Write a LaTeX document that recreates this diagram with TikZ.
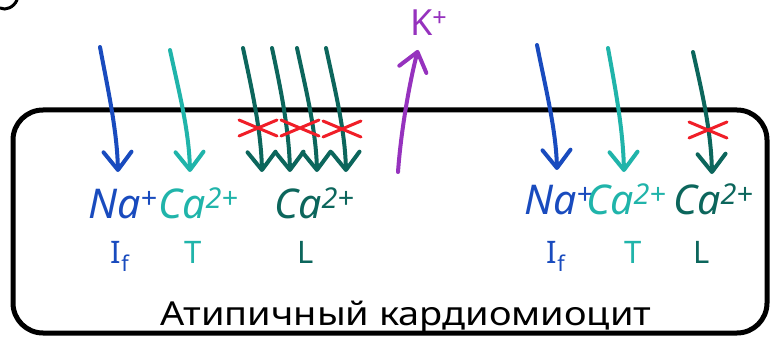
\documentclass[tikz,border=0pt]{standalone}
\usepackage{fontspec}
\setmainfont{Noto Sans}
\usetikzlibrary{arrows.meta}
\definecolor{ionblue}{RGB}{25,75,190}
\definecolor{ionteal}{RGB}{32,180,170}
\definecolor{iondark}{RGB}{12,102,92}
\definecolor{ionpurple}{RGB}{150,50,190}
\definecolor{xred}{RGB}{240,30,40}
\tikzset{
  ion/.style={line width=4pt, line cap=round, -{Straight Barb[length=18pt,width=28pt,round]}},
  xmark/.style={xred, line width=3pt, line cap=round},
  ionlbl/.style={anchor=base west, inner sep=0pt, font=\fontsize{41}{43}\selectfont\itshape},
  typelbl/.style={anchor=base, inner sep=0pt, font=\fontsize{31}{33}\selectfont},
}
\begin{document}
\begin{tikzpicture}[x=1pt,y=-1pt]
\useasboundingbox (0,0) rectangle (771,342);
\fill[white] (0,0) rectangle (771,342);
% fragment at top-left
\draw[line width=3pt, line cap=round] (17,0) .. controls (14,7) and (6,11) .. (0,8);
% cell membrane
\draw[line width=5pt, rounded corners=30pt] (13,110) rectangle (767,333);
% coordinates
\coordinate (a1s) at (100,47);  \coordinate (a1e) at (118,172);
\coordinate (a2s) at (170,50);  \coordinate (a2e) at (190,172);
\coordinate (a3s) at (243,48);  \coordinate (a3e) at (262,172);
\coordinate (a4s) at (272,48);  \coordinate (a4e) at (290,172);
\coordinate (a5s) at (297,48);  \coordinate (a5e) at (317,172);
\coordinate (a6s) at (326,48);  \coordinate (a6e) at (346,172);
\coordinate (kS) at (398,172);  \coordinate (kE) at (418,50);
\coordinate (b1s) at (537,45);  \coordinate (b1e) at (557,170);
\coordinate (b2s) at (608,48);  \coordinate (b2e) at (624,172);
\coordinate (b3s) at (693,52);  \coordinate (b3e) at (712,174);
% arrows
\draw[ion, ionblue]   (a1s) .. controls (108,90) and (117,130) .. (a1e);
\draw[ion, ionteal]   (a2s) .. controls (179,92) and (189,130) .. (a2e);
\draw[ion, iondark]   (a3s) .. controls (252,90) and (261,130) .. (a3e);
\draw[ion, iondark]   (a4s) .. controls (281,90) and (289,130) .. (a4e);
\draw[ion, iondark]   (a5s) .. controls (306,90) and (316,130) .. (a5e);
\draw[ion, iondark]   (a6s) .. controls (335,90) and (345,130) .. (a6e);
\draw[ion, ionpurple] (kS) .. controls (401,130) and (410,80) .. (kE);
\draw[ion, ionblue]   (b1s) .. controls (546,90) and (556,130) .. (b1e);
\draw[ion, ionteal]   (b2s) .. controls (616,92) and (623,130) .. (b2e);
\draw[ion, iondark]   (b3s) .. controls (702,92) and (711,130) .. (b3e);
% blocked L channels
\coordinate (x1) at (258,128);
\coordinate (x2) at (300,128);
\coordinate (x3) at (342,129);
\coordinate (x4) at (708,130);
\foreach \c in {x1,x2,x3,x4}
  \draw[xmark] (\c) ++(-19,-8) -- ++(38,16) (\c) ++(-19,8) -- ++(38,-16);
% labels
\node[ionlbl, ionpurple, font=\fontsize{36}{38}\selectfont] (k) at (410,36) {K\textsuperscript{+}};
\node[ionlbl, ionblue] (naL) at (88,218) {Na\textsuperscript{+}};
\node[ionlbl, ionteal] (caTL) at (158,218) {Ca\textsuperscript{2+}};
\node[ionlbl, iondark] (caLL) at (274,218) {Ca\textsuperscript{2+}};
\node[ionlbl, ionblue] (naR) at (524,214) {Na\textsuperscript{+}};
\node[ionlbl, ionteal] (caTR) at (586,214) {Ca\textsuperscript{2+}};
\node[ionlbl, iondark] (caLR) at (673,214) {Ca\textsuperscript{2+}};
\node[typelbl, ionblue] (ifL) at (120,263) {I\textsubscript{f}};
\node[typelbl, ionteal] (tL) at (193,263) {T};
\node[typelbl, iondark] (lL) at (306,263) {L};
\node[typelbl, ionblue] (ifR) at (556,263) {I\textsubscript{f}};
\node[typelbl, ionteal] (tR) at (633,263) {T};
\node[typelbl, iondark] (lR) at (702,263) {L};
\node[anchor=base, inner sep=0pt, xscale=1.15, font=\fontsize{33}{35}\selectfont] (cell) at (406,325) {Атипичный кардиомиоцит};
\end{tikzpicture}
\end{document}
